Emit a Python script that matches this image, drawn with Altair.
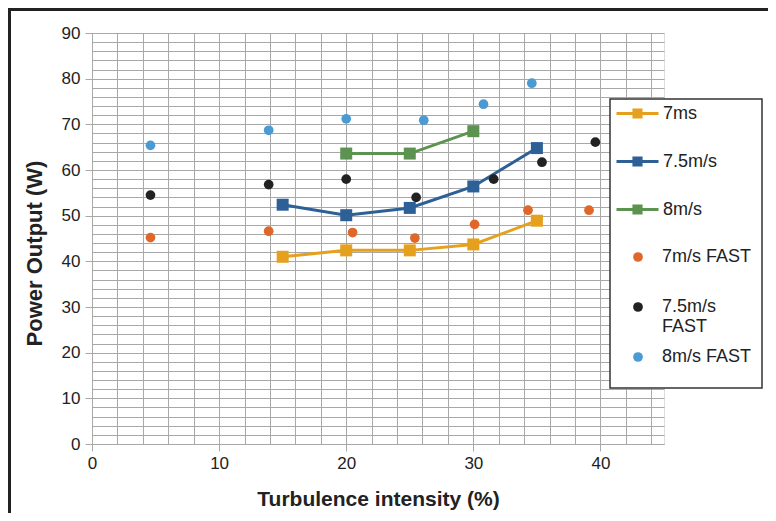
import altair as alt
import pandas as pd

# ---- data ----
line_series = ["7ms", "7.5m/s", "8m/s"]
line_colors = ["#E5A01E", "#2D6096", "#5C9350"]
x_line = [15, 20, 25, 30, 35]
p_7 = [41.0, 42.4, 42.4, 43.7, 48.9]
p_75 = [52.4, 50.1, 51.7, 56.4, 64.8]
x_8 = [20, 25, 30]
p_8 = [63.6, 63.6, 68.5]

fast_series = ["7m/s FAST", "7.5m/s FAST", "8m/s FAST"]
fast_colors = ["#E0672A", "#222222", "#4A9AD3"]
x_7f = [4.6, 13.9, 20.5, 25.4, 30.1, 34.3, 39.1]
y_7f = [45.2, 46.6, 46.3, 45.1, 48.1, 51.2, 51.2]
x_75f = [4.6, 13.9, 20.0, 25.5, 31.6, 35.4, 39.6]
y_75f = [54.5, 56.8, 58.0, 54.0, 58.0, 61.7, 66.1]
x_8f = [4.6, 13.9, 20.0, 26.1, 30.8, 34.6]
y_8f = [65.4, 68.7, 71.2, 70.9, 74.4, 79.0]

x_ticks = list(range(0, 45, 2))
y_ticks = list(range(0, 91, 2))

rows = []
for name, xs, ys in zip(line_series, [x_line, x_line, x_8], [p_7, p_75, p_8]):
    rows += [{"series": name, "x": a, "y": b} for a, b in zip(xs, ys)]
line_df = pd.DataFrame(rows)

rows = []
for name, xs, ys in zip(fast_series, [x_7f, x_75f, x_8f], [y_7f, y_75f, y_8f]):
    rows += [{"series": name, "x": a, "y": b} for a, b in zip(xs, ys)]
fast_df = pd.DataFrame(rows)

FONT = "Liberation Sans"
major = "datum.value % 10 === 0"

x_axis = alt.Axis(
    values=x_ticks, title="Turbulence intensity (%)",
    labelExpr=f"{major} ? datum.label : ''",
    tickOpacity=alt.condition(major, alt.value(1), alt.value(0)),
    labelOverlap=False, labelFlush=False,
    grid=True, gridColor="#a8a8a8", gridWidth=1,
    domainColor="#a8a8a8", tickColor="#a8a8a8", tickSize=7,
    labelFont=FONT, labelFontSize=17, labelColor="#222222", labelPadding=4,
    titleFont=FONT, titleFontSize=21, titleFontWeight="bold", titleColor="#222222",
    titleBaseline="alphabetic", titleY=61,
)
y_axis = alt.Axis(
    values=y_ticks, title="Power Output (W)",
    labelExpr=f"{major} ? datum.label : ''",
    tickOpacity=alt.condition(major, alt.value(1), alt.value(0)),
    labelOverlap=False, labelFlush=False,
    grid=True, gridColor="#a8a8a8", gridWidth=1,
    domainColor="#a8a8a8", tickColor="#a8a8a8", tickSize=7,
    labelFont=FONT, labelFontSize=17, labelColor="#222222", labelPadding=5,
    titleFont=FONT, titleFontSize=22, titleFontWeight="bold", titleColor="#222222",
    titleAngle=270, titleAlign="center", titleBaseline="middle", titleX=-58, titleY=220,
)

x_enc = alt.X("x:Q", scale=alt.Scale(domain=[0, 45], nice=False, zero=False), axis=x_axis)
y_enc = alt.Y("y:Q", scale=alt.Scale(domain=[0, 90], nice=False), axis=y_axis)

sym_path = "M-1,0H1M-0.17,-0.17H0.17V0.17H-0.17Z"
leg1 = alt.Legend(
    title=None, orient="none", legendX=523, legendY=58, padding=0,
    symbolType=sym_path, symbolSize=1764, symbolStrokeWidth=3,
    labelFont=FONT, labelFontSize=18, labelColor="#222222", labelOffset=3,
    rowPadding=15,
)
leg2 = alt.Legend(
    title=None, orient="none", legendX=537, legendY=215, padding=0,
    symbolType="circle", symbolSize=95,
    labelFont=FONT, labelFontSize=18, labelColor="#222222", labelOffset=15,
    rowPadding=12,
    labelExpr="datum.label == '7.5m/s FAST' ? ['7.5m/s', 'FAST'] : [datum.label, '']",
)

one = pd.DataFrame({"k": [0]})

frame = alt.Chart(one).mark_rect(fillOpacity=0, stroke="#222222", strokeWidth=3).encode(
    x=alt.value(-82.5), x2=alt.value(800), y=alt.value(-23.5), y2=alt.value(560)
)

lines = alt.Chart(line_df).mark_line(strokeWidth=3).encode(
    x=x_enc, y=y_enc,
    stroke=alt.Stroke("series:N", scale=alt.Scale(domain=line_series, range=line_colors), legend=leg1),
)
squares = alt.Chart(line_df).mark_square(size=144, opacity=1, filled=True).encode(
    x=x_enc, y=y_enc,
    fill=alt.Fill("series:N", scale=alt.Scale(domain=line_series, range=line_colors), legend=leg1),
)
circles = alt.Chart(fast_df).mark_circle(size=95, opacity=1).encode(
    x=x_enc, y=y_enc,
    color=alt.Color("series:N", scale=alt.Scale(domain=fast_series, range=fast_colors), legend=leg2),
)
box = alt.Chart(one).mark_rect(fill="white", stroke="#333333", strokeWidth=1.5).encode(
    x=alt.value(518), x2=alt.value(670), y=alt.value(66), y2=alt.value(355)
)

chart = alt.layer(frame, lines, squares, circles, box).properties(
    width=572, height=411,
    autosize=alt.AutoSizeParams(type="none"),
    padding={"left": 84, "top": 25, "right": 104, "bottom": 69},
).configure_view(stroke=None).configure(background="white")

chart.save("out.html", embed_options={"renderer": "svg", "actions": False})
